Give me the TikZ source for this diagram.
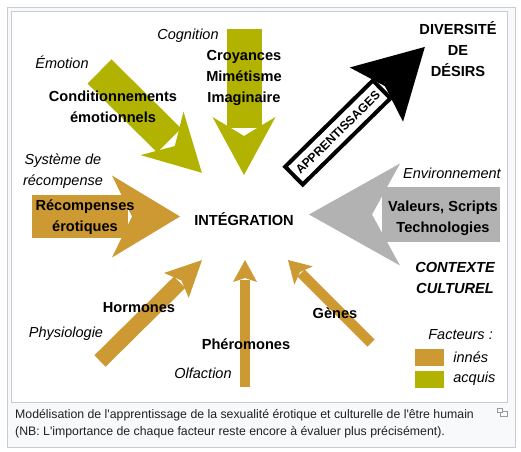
\documentclass[tikz,border=0pt]{standalone}
\usepackage{fontspec}
\setmainfont{Liberation Sans}
\usetikzlibrary{positioning,calc}

\definecolor{innate}{HTML}{CC9933}
\definecolor{acquired}{HTML}{B2B200}
\definecolor{culture}{HTML}{B2B2B2}
\definecolor{frameline}{HTML}{C8CCD1}
\definecolor{framebg}{HTML}{F8F9FA}
\definecolor{captxt}{HTML}{202122}

% fat arrow: colour, start, angle, length, shaft width, head width, head length, notch, shaft end
\newcommand{\fatarrow}[9]{%
  \begin{scope}[shift={#2},rotate=#3]
    \fill[#1] (0,-#5/2) rectangle (#9,#5/2);
    \fill[#1] (#4,0) -- ({#4-#7},{#6/2}) -- ({#4-#7+#8},0) -- ({#4-#7},{-#6/2}) -- cycle;
  \end{scope}}

\begin{document}
\begin{tikzpicture}[x=1pt,y=-1pt]
\tikzstyle{bold}=[font=\fontsize{14.6}{21}\selectfont\bfseries,align=center,inner sep=0pt]
\tikzstyle{ital}=[font=\fontsize{14.5}{21}\selectfont\itshape,align=center,inner sep=0pt]
\tikzstyle{capt}=[font=\fontsize{12.3}{17}\selectfont,text=captxt,anchor=west,inner sep=0pt]
\tikzstyle{swatch}=[minimum width=29pt,minimum height=17pt,inner sep=0pt]
\useasboundingbox (0,0) rectangle (521,451);
% frame
\draw[frameline,fill=framebg] (7,7) rectangle (515,447);
\draw[frameline,fill=white] (11,11) rectangle (507,402);
% acquired factors
\fatarrow{acquired}{(99.5,71.5)}{-44.7}{144}{34}{61}{56}{18}{98}
\fatarrow{acquired}{(244,29)}{-90}{146}{35}{63}{58}{19}{99}
% innate factors
\fatarrow{innate}{(32,216.5)}{0}{148}{43}{82}{68}{20}{96}
\fatarrow{innate}{(100,361)}{44.7}{143.5}{16}{35}{36}{7}{112}
\fatarrow{innate}{(245,387)}{90}{127}{10}{24}{22}{4}{107}
\fatarrow{innate}{(371,343)}{135}{117.4}{10}{26}{22}{5}{99}
% culture
\fatarrow{culture}{(500,214.5)}{180}{191}{55}{102}{91}{28}{118}
% learning
\begin{scope}[shift={(292.5,177)},rotate=44.5]
  \draw[line width=4pt,fill=white] (2,-12.5) rectangle (125,12.5);
  \fill (185.6,0) -- (117.6,38) -- (129.6,0) -- (117.6,-38) -- cycle;
\end{scope}
\node[font=\fontsize{12.2}{14}\selectfont\bfseries,rotate=44.5,inner sep=0pt] (learn) at (337.8,132.5) {APPRENTISSAGES};
% labels
\node[ital] (cogn) at (188,36) {Cognition};
\node[ital] (emo) at (62,62) {Émotion};
\node[bold] (cond) at (113,107) {Conditionnements\\émotionnels};
\node[bold] (croy) at (244,78) {Croyances\\Mimétisme\\Imaginaire};
\node[ital] (sysr) at (63,171.5) {Système de\\récompense};
\node[bold] (recomp) at (85,217) {Récompenses\\érotiques};
\node[bold] (integ) at (244,219.5) {INTÉGRATION};
\node[bold] (divers) at (458,49) {DIVERSITÉ\\DE\\DÉSIRS};
\node[ital] (envir) at (452,173) {Environnement};
\node[bold] (values) at (443,218) {Valeurs, Scripts\\Technologies};
\node[bold,font=\fontsize{14.6}{21}\selectfont\bfseries\itshape] (context) at (455,278) {CONTEXTE\\CULTUREL};
\node[bold] (genes) at (335,313) {Gènes};
\node[bold] (horm) at (139,308) {Hormones};
\node[ital] (physio) at (66,334) {Physiologie};
\node[bold] (pherom) at (246,344) {Phéromones};
\node[ital] (olfact) at (203,373) {Olfaction};
% legend
\node[ital,anchor=east] (factl) at (493,335) {Facteurs :};
\node[swatch,fill=innate] (innbox) at (429.5,357.5) {};
\node[swatch,fill=acquired] (acqbox) at (429.5,379) {};
\node[ital,anchor=west] (innes) at ([xshift=9pt]innbox.east) {innés};
\node[ital,anchor=west] (acquis) at ([xshift=9pt]acqbox.east) {acquis};
% caption
\node[capt] (cap1) at (15,415) {Modélisation de l\textquotesingle apprentissage de la sexualité érotique et culturelle de l\textquotesingle être humain};
\node[capt] (cap2) at (15,432) {(NB: L\textquotesingle importance de chaque facteur reste encore à évaluer plus précisément).};
\draw[gray!80,line width=0.8pt] (500,411) rectangle (507,416);
\draw[gray!80,line width=0.8pt,fill=framebg] (497,408) rectangle (502,412);
\end{tikzpicture}
\end{document}
